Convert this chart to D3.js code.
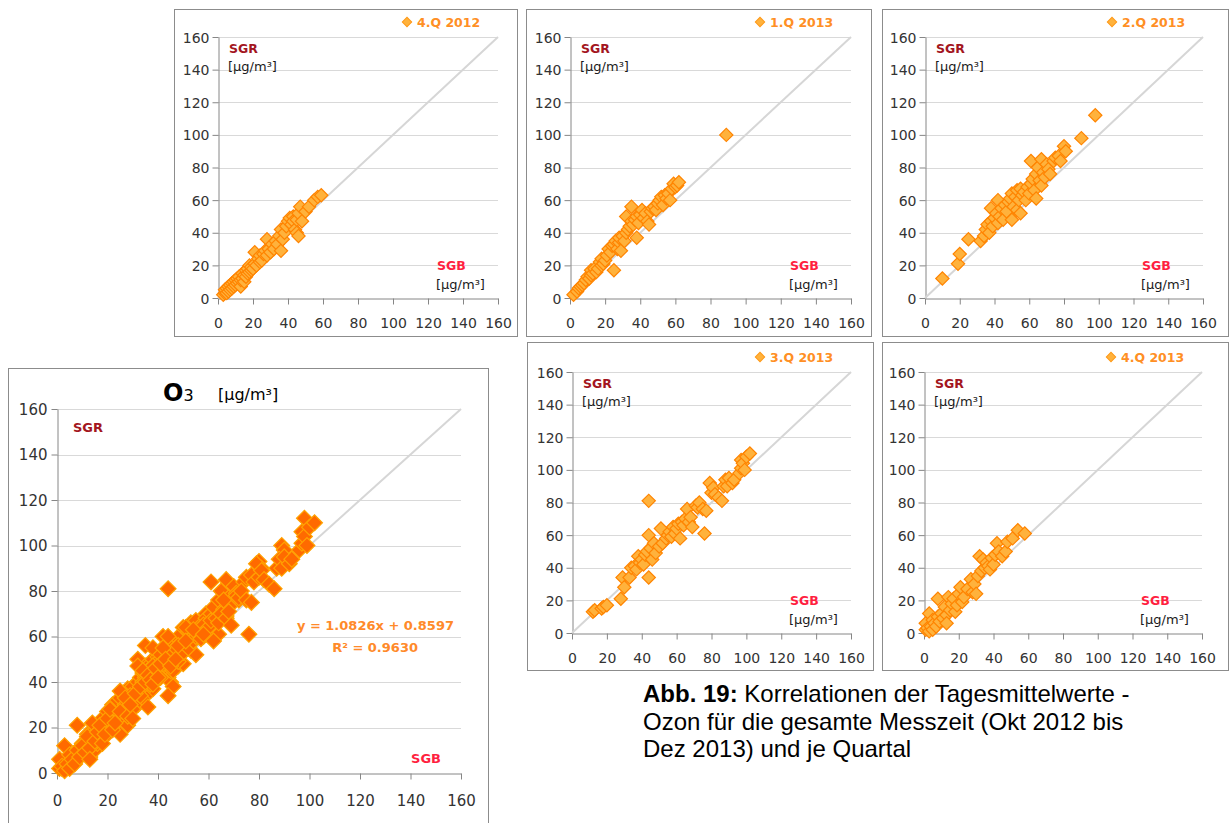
<!DOCTYPE html>
<html>
<head>
<meta charset="utf-8">
<script src="https://cdn.jsdelivr.net/npm/d3@7"></script>
<style>
  body { margin: 0; background: #fff; }
  text { font-family: 'DejaVu Sans', sans-serif; }
</style>
</head>
<body>
<div id="chart"></div>
<script>
// daily means, [SGB, SGR] in µg/m³
var q4_2012 = [[3,2],[4,3],[4,5],[5,3],[5,6],[6,4],[6,7],[7,5],[7,8],[8,6],[8,9],[9,7],[9,10],[10,8],[10,11],
  [11,9],[11,12],[12,10],[12,13],[13,7],[13,11],[14,12],[14,15],[15,10],[15,14],[16,13],[16,17],[17,15],[17,18],
  [18,16],[18,20],[19,17],[19,19],[20,18],[21,28],[21,21],[22,20],[23,24],[24,22],[24,26],[25,23],[26,27],[27,29],
  [28,36],[28,26],[29,30],[30,28],[31,33],[32,30],[33,35],[34,33],[35,38],[36,29],[36,42],[37,36],[38,40],[39,44],
  [40,47],[41,49],[42,45],[43,50],[43,47],[44,42],[45,48],[45,40],[46,38],[46,52],[47,56],[48,47],[50,53],[52,56],
  [55,60],[57,62],[59,63]]
var q1_2013 = [[2,2],[4,4],[5,6],[6,7],[7,8],[8,9],[9,11],[10,13],[11,12],[12,14],[12,17],[13,15],[14,18],[15,16],
  [16,18],[17,22],[18,24],[18,20],[19,21],[20,23],[21,26],[22,30],[23,28],[24,32],[25,33],[25,17],[26,35],[27,30],
  [28,34],[28,37],[29,29],[30,38],[31,35],[32,50],[32,40],[33,42],[34,44],[35,56],[35,47],[36,45],[37,48],[38,37],
  [38,50],[39,46],[40,51],[41,54],[42,49],[43,52],[44,47],[45,45],[46,53],[47,55],[48,56],[49,54],[50,58],[51,60],
  [52,62],[53,57],[54,63],[55,61],[56,64],[57,60],[58,67],[59,70],[60,68],[61,69],[62,71],[89,100]]
var q2_2013 = [[10,12],[19,21],[20,27],[25,36],[32,35],[34,38],[35,42],[36,45],[37,40],[38,55],[38,47],[39,44],
  [40,49],[41,52],[42,60],[42,46],[43,50],[44,55],[45,48],[46,57],[47,53],[48,59],[49,61],[50,48],[50,64],[51,56],
  [52,62],[53,66],[53,54],[54,60],[55,52],[55,67],[56,63],[57,65],[58,60],[59,68],[60,64],[61,70],[61,84],[62,73],
  [63,66],[64,61],[64,76],[65,80],[66,72],[67,85],[67,69],[68,77],[69,74],[70,82],[71,79],[72,76],[74,84],[75,86],
  [77,87],[78,84],[80,93],[81,90],[90,98],[98,112]]
var q3_2013 = [[12,13],[13,14],[17,15],[18,16],[20,17],[28,21],[29,34],[30,28],[33,34],[34,40],[36,41],[37,39],
  [38,47],[39,43],[40,45],[41,42],[42,48],[43,50],[44,60],[44,81],[44,34],[45,52],[46,45],[47,55],[48,49],[50,53],
  [51,64],[52,55],[54,58],[55,60],[56,62],[57,59],[58,65],[59,61],[60,64],[61,67],[62,58],[63,68],[64,66],[65,70],
  [66,76],[67,68],[68,71],[69,65],[71,78],[72,77],[73,80],[75,76],[76,61],[77,75],[79,92],[80,86],[81,89],[82,85],
  [84,83],[86,81],[87,90],[88,94],[89,90],[90,95],[92,92],[93,94],[96,98],[97,106],[97,101],[98,104],[99,100],
  [100,108],[102,110]]
var q4_2013 = [[1,2],[1,6],[2,3],[3,12],[3,1],[4,4],[5,2],[5,8],[6,6],[7,4],[8,21],[8,10],[9,7],[10,12],[11,9],
  [12,16],[13,11],[13,6],[14,22],[15,14],[16,18],[17,21],[18,13],[19,17],[20,24],[21,28],[22,19],[23,22],[25,27],
  [27,33],[28,25],[29,30],[30,24],[31,35],[32,47],[33,38],[34,45],[35,40],[36,43],[37,41],[38,39],[39,46],[40,42],
  [41,48],[42,55],[43,50],[45,47],[47,50],[48,56],[51,58],[54,63],[58,61]]

var quarterNames = ['4.Q 2012', '1.Q 2013', '2.Q 2013', '3.Q 2013', '4.Q 2013']
var axisTicks = [0, 20, 40, 60, 80, 100, 120, 140, 160]
var trendLines = ['y = 1.0826x + 0.8597', 'R² = 0.9630']
var captionLines = ['Korrelationen der Tagesmittelwerte -', 'Ozon für die gesamte Messzeit (Okt 2012 bis', 'Dez 2013) und je Quartal']

var allDays = [].concat(q4_2012, q1_2013, q2_2013, q3_2013, q4_2013)

var svg = d3.select('#chart').append('svg')
  .attr('width', 1232)
  .attr('height', 823)

// frame + plot box for each small panel
var smallPanels = [
  { data: q4_2012, name: quarterNames[0], frame: [174, 9, 517, 336], plot: [218, 37, 498, 298] },
  { data: q1_2013, name: quarterNames[1], frame: [526, 9, 871, 336], plot: [570, 37, 851, 298] },
  { data: q2_2013, name: quarterNames[2], frame: [882, 9, 1228, 336], plot: [925, 37, 1203, 298] },
  { data: q3_2013, name: quarterNames[3], frame: [527, 342, 873, 670], plot: [572, 372, 851, 633] },
  { data: q4_2013, name: quarterNames[4], frame: [882, 342, 1228, 670], plot: [924, 372, 1202, 633] }
]

function drawPanel(p, big) {
  var g = svg.append('g')
  var f = p.frame
  g.append('rect')
    .attr('x', f[0] + 0.5).attr('y', f[1] + 0.5)
    .attr('width', f[2] - f[0]).attr('height', f[3] - f[1])
    .attr('fill', 'white').attr('stroke', '#8c8c8c')

  var x = d3.scaleLinear().domain([0, 160]).range([p.plot[0], p.plot[2]])
  var y = d3.scaleLinear().domain([0, 160]).range([p.plot[3], p.plot[1]])
  var fs = big ? 15 : 14

  // grid
  g.selectAll('.grid').data(axisTicks.slice(1)).enter().append('line')
    .attr('x1', x(0)).attr('x2', x(160))
    .attr('y1', d => Math.round(y(d)) + 0.5).attr('y2', d => Math.round(y(d)) + 0.5)
    .attr('stroke', '#d9d9d9').attr('stroke-width', 1)

  var xAxis = g.append('g')
    .attr('transform', 'translate(0,' + (Math.round(y(0)) + 0.5) + ')')
    .call(d3.axisBottom(x).tickValues(axisTicks).tickSize(6).tickSizeOuter(0))
  var yAxis = g.append('g')
    .attr('transform', 'translate(' + (Math.round(x(0)) + 0.5) + ',0)')
    .call(d3.axisLeft(y).tickValues(axisTicks).tickSize(6).tickSizeOuter(0))
  ;[xAxis, yAxis].forEach(a => {
    a.select('.domain').attr('stroke', '#868686')
    a.selectAll('.tick line').attr('stroke', '#868686')
    a.selectAll('.tick text').attr('fill', '#333').style('font-size', fs + 'px')
  })
  xAxis.selectAll('.tick text').attr('dy', big ? '1.55em' : '1.45em')
  yAxis.selectAll('.tick text').attr('x', big ? -10 : -9).attr('dy', '0.36em')

  // 1:1 line
  g.append('line')
    .attr('x1', x(0)).attr('y1', y(0)).attr('x2', x(160)).attr('y2', y(160))
    .attr('stroke', '#d6d6d6').attr('stroke-width', 2)

  var size = big ? 125 : 88
  var sym = d3.symbol().type(d3.symbolSquare).size(size)
  g.selectAll('.pt').data(p.data).enter().append('path')
    .attr('d', sym)
    .attr('transform', d => 'translate(' + x(d[0]) + ',' + y(d[1]) + ') rotate(45)')
    .attr('fill', big ? '#ff6a00' : '#ffb23c')
    .attr('stroke', big ? '#ffa200' : '#ff8400')
    .attr('stroke-width', 1.2)

  var L = p.plot[0], T = p.plot[1], R = p.plot[2], B = p.plot[3]
  if (!big) {
    g.append('text').attr('x', L + 11).attr('y', T + 16)
      .attr('fill', '#a3161e').style('font-size', '12.5px').style('font-weight', 'bold').text('SGR')
    g.append('text').attr('x', L + 10).attr('y', T + 34)
      .attr('fill', '#1a1a1a').style('font-size', '13px').text('[µg/m³]')
    g.append('text').attr('x', R - 61).attr('y', B - 28)
      .attr('fill', '#ff1f3f').style('font-size', '12.5px').style('font-weight', 'bold').text('SGB')
    g.append('text').attr('x', R - 62).attr('y', B - 9)
      .attr('fill', '#1a1a1a').style('font-size', '13px').text('[µg/m³]')
    // legend
    g.append('path')
      .attr('d', d3.symbol().type(d3.symbolSquare).size(44))
      .attr('transform', 'translate(' + (R - 91) + ',' + (T - 15) + ') rotate(45)')
      .attr('fill', '#ffb23c').attr('stroke', '#ff9a1a')
    g.append('text').attr('x', R - 81).attr('y', T - 10)
      .attr('fill', '#ff8f24').style('font-size', '12.5px').style('font-weight', 'bold').text(p.name)
  } else {
    g.append('text').attr('x', L + 16).attr('y', T + 23)
      .attr('fill', '#a3161e').style('font-size', '13px').style('font-weight', 'bold').text('SGR')
    g.append('text').attr('x', L + 384).attr('y', T + 354)
      .attr('fill', '#ff1f3f').style('font-size', '13px').style('font-weight', 'bold').attr('text-anchor', 'end').text('SGB')
    g.selectAll('.trend').data(trendLines).enter().append('text')
      .attr('x', (d, i) => i ? R - 43 : R - 7)
      .attr('y', (d, i) => T + 221 + i * 22)
      .attr('text-anchor', 'end')
      .attr('fill', '#ff8a2a').style('font-size', '13px').style('font-weight', 'bold').text(d => d)
    var title = g.append('text').attr('x', 163).attr('y', 401).attr('fill', '#000')
    title.append('tspan').style('font-size', '24px').style('font-weight', 'bold').text('O')
    title.append('tspan').style('font-size', '16px').text('3')
    g.append('text').attr('x', 218).attr('y', 400).attr('fill', '#000')
      .style('font-size', '16px').text('[µg/m³]')
  }
}

drawPanel({ data: allDays, frame: [8, 368, 488, 830], plot: [57, 409, 461, 773] }, true)
smallPanels.forEach(p => drawPanel(p, false))

// caption
var capFont = "'Liberation Sans', Arial, sans-serif"
var cap = svg.append('text').attr('x', 643).attr('y', 702)
  .style('font-family', capFont).style('font-size', '24px').attr('fill', '#000')
cap.append('tspan').style('font-weight', 'bold').text('Abb. 19: ')
cap.append('tspan').text(captionLines[0])
captionLines.slice(1).forEach((t, i) => {
  svg.append('text').attr('x', 643).attr('y', 702 + 27.5 * (i + 1))
    .style('font-family', capFont).style('font-size', '24px').attr('fill', '#000')
    .text(t)
})
</script>
</body>
</html>
